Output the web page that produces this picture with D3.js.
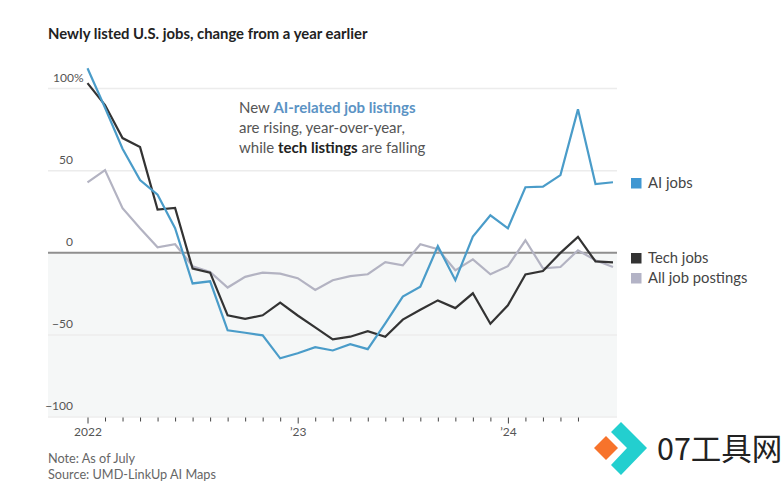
<!DOCTYPE html>
<html>
<head>
<meta charset="utf-8">
<script src="https://cdn.jsdelivr.net/npm/d3@7"></script>
<style>
  html, body { margin: 0; padding: 0; background: #fff; }
  svg { display: block; }
  text { font-family: "Lato", "Open Sans", sans-serif; }
</style>
</head>
<body>
<svg id="chart" width="783" height="482"></svg>
<script>
const months = [
  '2022-01','2022-02','2022-03','2022-04','2022-05','2022-06','2022-07','2022-08','2022-09','2022-10','2022-11','2022-12',
  '2023-01','2023-02','2023-03','2023-04','2023-05','2023-06','2023-07','2023-08','2023-09','2023-10','2023-11','2023-12',
  '2024-01','2024-02','2024-03','2024-04','2024-05','2024-06','2024-07'
]
const aiJobs = [112, 88, 63, 44, 35, 14.6, -19, -17.7, -47.5, -49, -50.6, -64.6, -61.5, -57.8, -59.8, -56, -59, -43.3, -27, -21, 3.7, -17, 9.5, 22.5, 14.6, 39.6, 40, 47, 87, 41.5, 42.6]
const techJobs = [103, 89.6, 69.5, 64, 26, 27, -10, -12.4, -38.4, -40.5, -38.4, -30.7, -38.5, -45.7, -53, -51.4, -48, -51.4, -41, -35, -29.3, -34, -25, -43.5, -32.3, -13.5, -11.4, -0.4, 9.3, -5.6, -6.2]
const allJobs = [42.6, 50, 26.8, 14.6, 3, 4.9, -8.5, -12, -21.5, -15, -12.4, -13, -15.8, -23, -17, -14.5, -13.4, -6, -8, 4.9, 1.8, -11, -4.3, -13.4, -8.5, 7.3, -9.8, -9, 1.2, -4.9, -9]
const yTicks = [100, 50, 0, -50, -100]
const yearTicks = ['2022-01', '2023-01', '2024-01']
const yearLabels = ['2022', '\u201923', '\u201924']

const svg = d3.select('#chart')

const x = d3.scaleLinear().domain([0, months.length - 1]).range([87.5, 613])
const y = d3.scaleLinear().domain([-100, 100]).range([416.5, 88])
const plotLeft = 48, plotRight = 617

// shaded area below zero
svg.append('rect')
  .attr('x', plotLeft).attr('width', plotRight - plotLeft)
  .attr('y', y(0)).attr('height', y(-100) - y(0))
  .attr('fill', '#f5f7f7')

// y axis: gridlines + labels
const yAxis = svg.append('g')
  .attr('transform', `translate(${plotRight},0)`)
  .call(d3.axisLeft(y).tickValues(yTicks).tickSize(plotRight - plotLeft).tickFormat(d => d === 100 ? '100%' : d < 0 ? '\u2212' + Math.abs(d) : d))
yAxis.select('.domain').remove()
yAxis.selectAll('.tick line')
  .attr('stroke', d => d === 0 ? '#8f8f8f' : '#ececec')
  .attr('stroke-width', d => d === 0 ? 2 : 1.5)
yAxis.selectAll('.tick text')
  .attr('text-anchor', d => d === 100 ? 'start' : 'end')
  .attr('x', d => d === 100 ? 53 - plotRight : 73 - plotRight)
  .attr('dy', -7)
  .attr('fill', '#555')
  .style('font-size', '12px')

// x axis
const xAxis = svg.append('g')
  .attr('transform', `translate(0,${y(-100) + 1})`)
const monthTicks = months.slice(0, 29).map((m, i) => i)
xAxis.call(d3.axisBottom(x).tickValues(monthTicks).tickSize(4).tickFormat(i => {
  const k = yearTicks.indexOf(months[i])
  return k >= 0 ? yearLabels[k] : ''
}))
xAxis.select('.domain').remove()
xAxis.selectAll('.tick line')
  .attr('stroke', '#444')
  .attr('y2', i => yearTicks.includes(months[i]) ? 6 : 4)
xAxis.selectAll('.tick text')
  .attr('y', 10)
  .attr('fill', '#555')
  .style('font-size', '12px')

const line = d3.line().x((d, i) => x(i)).y(d => y(d))
const series = [
  { values: allJobs, color: '#b3b3c2' },
  { values: techJobs, color: '#333333' },
  { values: aiJobs, color: '#4a9cc9' }
]
svg.selectAll('path.series')
  .data(series)
  .enter()
  .append('path')
  .attr('class', 'series')
  .attr('fill', 'none')
  .attr('stroke', d => d.color)
  .attr('stroke-width', 2.2)
  .attr('stroke-linejoin', 'miter')
  .attr('d', d => line(d.values))

// title
svg.append('text')
  .attr('x', 48).attr('y', 38.5)
  .attr('fill', '#222')
  .style('font-size', '14.85px').style('font-weight', 700)
  .text('Newly listed U.S. jobs, change from a year earlier')

// annotation
const annotation = [
  [['New ', '#555', 400], ['AI-related job listings', '#5b93c4', 700]],
  [['are rising, year-over-year,', '#555', 400]],
  [['while ', '#555', 400], ['tech listings', '#222', 700], [' are falling', '#555', 400]]
]
annotation.forEach((parts, i) => {
  const t = svg.append('text')
    .attr('x', 239).attr('y', 113 + i * 20)
    .style('font-size', '15px')
  parts.forEach(p => {
    t.append('tspan').attr('fill', p[1]).attr('font-weight', p[2]).text(p[0])
  })
})

// legend
const legendItems = [
  { label: 'AI jobs', color: '#3f97d2', ypos: 183 },
  { label: 'Tech jobs', color: '#333333', ypos: 258 },
  { label: 'All job postings', color: '#b3b3c6', ypos: 278 }
]
const legend = svg.selectAll('g.legend').data(legendItems).enter().append('g').attr('class', 'legend')
legend.append('rect')
  .attr('x', 631).attr('width', 10.5).attr('height', 10.5)
  .attr('y', d => d.ypos - 5)
  .attr('fill', d => d.color)
legend.append('text')
  .attr('x', 648).attr('y', d => d.ypos + 5)
  .attr('fill', '#444')
  .style('font-size', '14.8px')
  .text(d => d.label)

// footer
svg.append('text').attr('x', 48).attr('y', 463).attr('fill', '#666').style('font-size', '12.7px').text('Note: As of July')
svg.append('text').attr('x', 48).attr('y', 479).attr('fill', '#666').style('font-size', '12.7px').text('Source: UMD-LinkUp AI Maps')

// site watermark
svg.append('polygon').attr('points', '621,422 647,448 621,475 611,465 627,448 611,432').attr('fill', '#23cfcf')
svg.append('polygon').attr('points', '606,436 618,448 606,460 594,448').attr('fill', '#f7732b')
svg.append('text')
  .attr('x', 657).attr('y', 460)
  .attr('fill', '#222')
  .style('font-family', '"Noto Sans CJK SC", sans-serif')
  .style('font-size', '30.5px')
  .text('07工具网')
</script>
</body>
</html>
